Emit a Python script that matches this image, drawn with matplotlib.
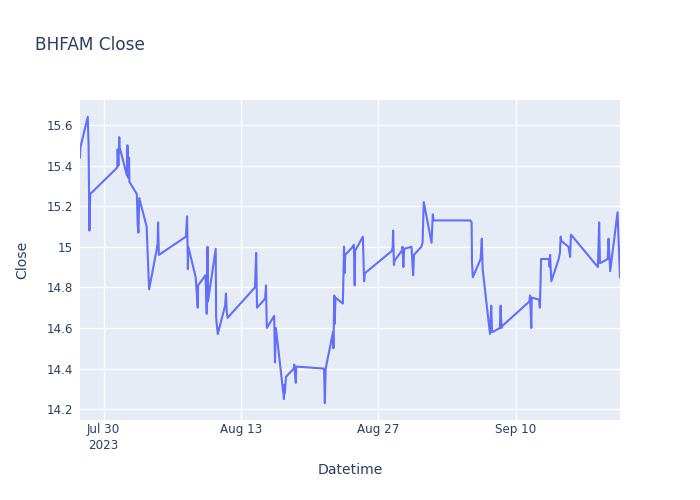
import matplotlib
matplotlib.use("Agg")
import matplotlib.pyplot as plt
import pandas as pd

timestamps = [
    "2023-07-27 14:30", "2023-07-27 15:30",
    "2023-07-28 09:30", "2023-07-28 11:30", "2023-07-28 13:30", "2023-07-28 15:30",
    "2023-07-31 09:30", "2023-07-31 10:30", "2023-07-31 12:30", "2023-07-31 14:30", "2023-07-31 15:30",
    "2023-08-01 09:30", "2023-08-01 10:30", "2023-08-01 12:30", "2023-08-01 14:30", "2023-08-01 15:30",
    "2023-08-02 09:30", "2023-08-02 11:30", "2023-08-02 13:30", "2023-08-02 15:30",
    "2023-08-03 09:30", "2023-08-03 15:30",
    "2023-08-04 09:30", "2023-08-04 12:30", "2023-08-04 13:30", "2023-08-04 15:30",
    "2023-08-07 09:30", "2023-08-07 12:30", "2023-08-07 14:30", "2023-08-07 15:30",
    "2023-08-08 09:30", "2023-08-08 14:30", "2023-08-08 15:30",
    "2023-08-09 09:30", "2023-08-09 12:30", "2023-08-09 14:30", "2023-08-09 15:30",
    "2023-08-10 10:30", "2023-08-10 11:30", "2023-08-10 15:30",
    "2023-08-11 09:30", "2023-08-11 11:30", "2023-08-11 13:30", "2023-08-11 15:30",
    "2023-08-14 10:30", "2023-08-14 13:30", "2023-08-14 15:30",
    "2023-08-15 09:30", "2023-08-15 11:30", "2023-08-15 13:30", "2023-08-15 15:30",
    "2023-08-16 09:30", "2023-08-16 11:30", "2023-08-16 13:30", "2023-08-16 15:30",
    "2023-08-17 09:30", "2023-08-17 10:30", "2023-08-17 11:30", "2023-08-17 14:30",
    "2023-08-18 09:30", "2023-08-18 10:30", "2023-08-18 14:30", "2023-08-18 15:30",
    "2023-08-21 09:30", "2023-08-21 11:30", "2023-08-21 13:30", "2023-08-21 15:30",
    "2023-08-22 09:30", "2023-08-22 10:30", "2023-08-22 12:30", "2023-08-22 13:30", "2023-08-22 15:30",
    "2023-08-23 09:30", "2023-08-23 12:30", "2023-08-23 13:30", "2023-08-23 15:30",
    "2023-08-24 09:30", "2023-08-24 12:30", "2023-08-24 14:30", "2023-08-24 15:30",
    "2023-08-25 10:30", "2023-08-25 13:30", "2023-08-25 15:30",
    "2023-08-28 09:30", "2023-08-28 11:30", "2023-08-28 12:30", "2023-08-28 14:30", "2023-08-28 15:30",
    "2023-08-29 09:30", "2023-08-29 11:30", "2023-08-29 13:30", "2023-08-29 15:30",
    "2023-08-30 09:30", "2023-08-30 13:30", "2023-08-30 15:30",
    "2023-08-31 09:30", "2023-08-31 12:30", "2023-08-31 15:30",
    "2023-09-01 10:30", "2023-09-01 13:30", "2023-09-01 15:30",
    "2023-09-05 09:30", "2023-09-05 12:30", "2023-09-05 13:30", "2023-09-05 15:30",
    "2023-09-06 10:30", "2023-09-06 13:30", "2023-09-06 15:30",
    "2023-09-07 09:30", "2023-09-07 12:30", "2023-09-07 14:30", "2023-09-07 15:30",
    "2023-09-08 09:30", "2023-09-08 11:30", "2023-09-08 13:30", "2023-09-08 15:30",
    "2023-09-11 09:30", "2023-09-11 11:30", "2023-09-11 14:30", "2023-09-11 15:30",
    "2023-09-12 09:30", "2023-09-12 11:30", "2023-09-12 14:30", "2023-09-12 15:30",
    "2023-09-13 09:30", "2023-09-13 11:30", "2023-09-13 12:30", "2023-09-13 15:30",
    "2023-09-14 09:30", "2023-09-14 12:30", "2023-09-14 14:30", "2023-09-14 15:30",
    "2023-09-15 09:30", "2023-09-15 13:30", "2023-09-15 15:30",
    "2023-09-18 09:30", "2023-09-18 12:30", "2023-09-18 14:30", "2023-09-18 15:30",
    "2023-09-19 09:30", "2023-09-19 11:30", "2023-09-19 15:30",
    "2023-09-20 09:30", "2023-09-20 15:30",
]

close = [
    15.44, 15.49,
    15.64, 15.50, 15.08, 15.26,
    15.39, 15.48, 15.40, 15.54, 15.49,
    15.35, 15.50, 15.34, 15.44, 15.32,
    15.26, 15.11, 15.07, 15.24,
    15.10, 14.79,
    14.98, 15.02, 15.12, 14.96,
    15.05, 15.15, 14.89, 15.00,
    14.85, 14.70, 14.81,
    14.86, 14.67, 15.00, 14.73,
    14.99, 14.65, 14.57,
    14.71, 14.77, 14.68, 14.65,
    14.80, 14.97, 14.70,
    14.74, 14.75, 14.81, 14.60,
    14.66, 14.43, 14.60, 14.57,
    14.25, 14.32, 14.28, 14.36,
    14.40, 14.42, 14.33, 14.41,
    14.40, 14.40, 14.23, 14.40,
    14.58, 14.50, 14.76, 14.62, 14.75,
    14.72, 15.00, 14.87, 14.96,
    15.00, 15.01, 14.81, 14.98,
    15.05, 14.83, 14.87,
    14.98, 15.00, 15.08, 14.91, 14.93,
    14.98, 15.00, 14.90, 14.99,
    15.00, 14.86, 14.96,
    15.00, 15.02, 15.22,
    15.02, 15.16, 15.13,
    15.13, 15.12, 14.92, 14.85,
    14.94, 15.04, 14.89,
    14.57, 14.71, 14.58, 14.58,
    14.60, 14.71, 14.60, 14.61,
    14.73, 14.76, 14.60, 14.75,
    14.74, 14.70, 14.94, 14.94,
    14.94, 14.90, 14.96, 14.83,
    14.94, 14.97, 15.05, 15.03,
    15.00, 14.95, 15.06,
    14.90, 15.12, 14.92, 14.92,
    14.94, 15.04, 14.88,
    15.17, 14.85,
]

x_tick_dates = ["2023-07-30", "2023-08-13", "2023-08-27", "2023-09-10"]
x_tick_labels = ["Jul 30\n2023", "Aug 13", "Aug 27", "Sep 10"]
y_ticks = [14.2, 14.4, 14.6, 14.8, 15.0, 15.2, 15.4, 15.6]
y_tick_labels = ["14.2", "14.4", "14.6", "14.8", "15", "15.2", "15.4", "15.6"]

plt.rcParams['font.family'] = ['DejaVu Sans']
text_color = "#2a3f5f"

dt = pd.to_datetime(timestamps)

fig = plt.figure(figsize=(7, 5), dpi=100)
ax = fig.add_axes([80/700, 1-420/500, 540/700, 320/500])
ax.set_facecolor("#E5ECF6")
ax.plot(dt, close, color="#636EFA", linewidth=1.5, solid_joinstyle="round", zorder=3)

ax.set_xlim(dt.min(), dt.max())
vmin, vmax = min(close), max(close)
pad = (vmax - vmin) * 0.059
ax.set_ylim(vmin - pad, vmax + pad)

ax.set_xticks(pd.to_datetime(x_tick_dates))
ax.set_xticklabels(x_tick_labels)
ax.set_yticks(y_ticks)
ax.set_yticklabels(y_tick_labels)
ax.grid(True, color="white", linewidth=1.0, zorder=0)
ax.set_axisbelow(True)
for s in ax.spines.values():
    s.set_visible(False)
ax.tick_params(axis="y", length=0, labelsize=8.6, colors=text_color, pad=5)
ax.tick_params(axis="x", length=0, labelsize=8.6, colors=text_color, pad=2)
for lab in ax.get_xticklabels():
    lab.set_linespacing(1.35)

fig.text(35/700, 1-45/500, "BHFAM Close", fontsize=12.2, color=text_color, va="center", ha="left")
fig.text(350/700, 1-470/500, "Datetime", fontsize=10.1, color=text_color, va="center", ha="center")
fig.text(22/700, 1-260/500, "Close", fontsize=10.1, color=text_color, va="center", ha="center", rotation=90)

fig.savefig("out.png", dpi=100)
